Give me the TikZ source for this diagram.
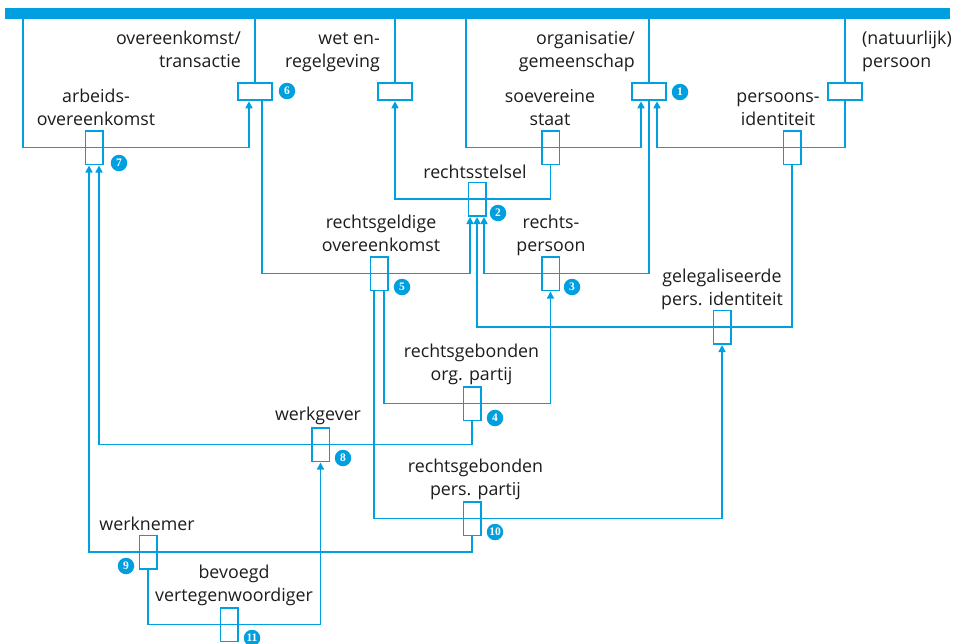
\documentclass[tikz,border=0pt]{standalone}
\usepackage{fontspec}
\setmainfont{Open Sans}
\newfontfamily\badgefont{Liberation Serif}
\usetikzlibrary{arrows.meta}
\definecolor{rsblue}{RGB}{0,159,224}
\definecolor{ink}{RGB}{28,28,28}

\begin{document}
\begin{tikzpicture}[x=1pt,y=-1pt,
  conn/.style={draw=rsblue,line width=1.5pt},
  arr/.style={conn,-{Triangle[width=7pt,length=7pt]},shorten >=0.5pt},
  hport/.style={draw=rsblue,line width=1.5pt,minimum width=34pt,minimum height=17pt,inner sep=0pt},
  vport/.style={draw=rsblue,line width=1.5pt,minimum width=17.5pt,minimum height=33.5pt,inner sep=0pt},
  lbl/.style={font=\fontsize{17.8}{23}\selectfont,text=ink,inner sep=0pt},
  badge/.style={circle,fill=rsblue,minimum size=16.5pt,inner sep=0pt,text=white,
    font=\badgefont\bfseries\fontsize{11.5}{11.5}\selectfont}
]
\useasboundingbox (0,0) rectangle (956,643);

% top bar
\node[fill=rsblue,minimum width=945pt,minimum height=11pt,inner sep=0pt] (bar) at (477.5,13.5) {};

% horizontal ports
\node[hport] (tra) at (255,91.5) {};
\node[hport] (wet) at (395,91.5) {};
\node[hport] (org) at (649,91.5) {};
\node[hport] (per) at (845,91.5) {};

% vertical ports
\node[vport] (arb) at (94,147.5) {};
\node[vport] (soe) at (550.5,147.5) {};
\node[vport] (pid) at (792,147.5) {};
\node[vport] (rst) at (477,199) {};
\node[vport] (rgo) at (379,273.5) {};
\node[vport] (rpe) at (550.5,273.5) {};
\node[vport] (gpi) at (722,327) {};
\node[vport] (rop) at (472,403.5) {};
\node[vport] (wgv) at (320.5,444.5) {};
\node[vport] (rpp) at (472,518.5) {};
\node[vport] (wnm) at (148,552) {};
\node[vport] (bev) at (229,624.5) {};

% free starting points on the bar
\coordinate (tl) at (23,0);
\coordinate (sl) at (466,0);

% connectors from the bar
\draw[conn] (tra.north |- bar.south) -- (tra.north);
\draw[conn] (wet.north |- bar.south) -- (wet.north);
\draw[conn] (org.north |- bar.south) -- (org.north);
\draw[conn] (per.north |- bar.south) -- (per.north);

\draw[arr] (bar.south -| tl) |- ([xshift=-6pt]tra.south |- arb.center) -- ([xshift=-6pt]tra.south);
\draw[arr] (bar.south -| sl) |- ([xshift=-8pt]org.south |- soe.center) -- ([xshift=-8pt]org.south);
\draw[arr] (per.south) |- ([xshift=8pt]org.south |- pid.center) -- ([xshift=8pt]org.south);

% middle connectors
\draw[arr] (soe.south) |- (wet.south |- rst.center) -- (wet.south);
\draw[arr] ([xshift=7pt]tra.south) |- ([xshift=-7pt]rst.south |- rgo.center) -- ([xshift=-7pt]rst.south);
\draw[arr] (org.south) |- ([xshift=7pt]rst.south |- rpe.center) -- ([xshift=7pt]rst.south);
\draw[arr] (pid.south) |- (rst.south |- gpi.center) -- (rst.south);
\draw[arr] ([xshift=5pt]rgo.south) |- (rpe.south |- rop.center) -- (rpe.south);
\draw[arr] ([xshift=-5pt]rgo.south) |- (gpi.south |- rpp.center) -- (gpi.south);

% lower connectors
\draw[arr] (rop.south) |- ([xshift=5pt]arb.south |- wgv.center) -- ([xshift=5pt]arb.south);
\draw[arr] (rpp.south) |- ([xshift=-5pt]arb.south |- wnm.center) -- ([xshift=-5pt]arb.south);
\draw[arr] (wnm.south) |- (wgv.south |- bev.center) -- (wgv.south);

% labels (base anchor sits on the last line)
\node[lbl,align=right,anchor=base east] (ltra) at (241,67) {overeenkomst/\\transactie};
\node[lbl,align=right,anchor=base east] (lwet) at (380,67) {wet en-\\regelgeving};
\node[lbl,align=right,anchor=base east] (lorg) at (635,67) {organisatie/\\gemeenschap};
\node[lbl,align=left,anchor=base west] (lper) at (862,67) {(natuurlijk)\\persoon};
\node[lbl,align=center,anchor=base] (larb) at (96,125) {arbeids-\\overeenkomst};
\node[lbl,align=center,anchor=base] (lsoe) at (550,125) {soevereine\\staat};
\node[lbl,align=center,anchor=base] (lpid) at (778,125) {persoons-\\identiteit};
\node[lbl,align=center,anchor=base] (lrst) at (475,178) {rechtsstelsel};
\node[lbl,align=center,anchor=base] (lrgo) at (381,251) {rechtsgeldige\\overeenkomst};
\node[lbl,align=center,anchor=base] (lrpe) at (551,251) {rechts-\\persoon};
\node[lbl,align=center,anchor=base] (lgpi) at (722,305) {gelegaliseerde\\pers. identiteit};
\node[lbl,align=center,anchor=base] (lrop) at (471.5,380) {rechtsgebonden\\org. partij};
\node[lbl,align=center,anchor=base] (lwgv) at (318,420) {werkgever};
\node[lbl,align=center,anchor=base] (lrpp) at (475.5,495) {rechtsgebonden\\pers. partij};
\node[lbl,align=center,anchor=base] (lwnm) at (147,530) {werknemer};
\node[lbl,align=center,anchor=base] (lbev) at (234,601) {bevoegd\\vertegenwoordiger};

% numbered badges
\node[badge] (n1) at (680,92) {1};
\node[badge] (n2) at (498,213) {2};
\node[badge] (n3) at (572,287) {3};
\node[badge] (n4) at (495,418) {4};
\node[badge] (n5) at (402,287) {5};
\node[badge] (n6) at (287,91) {6};
\node[badge] (n7) at (119,163) {7};
\node[badge] (n8) at (343,458) {8};
\node[badge] (n9) at (126,566) {9};
\node[badge] (n10) at (495,532) {10};
\node[badge] (n11) at (252,638) {11};
\end{tikzpicture}
\end{document}
